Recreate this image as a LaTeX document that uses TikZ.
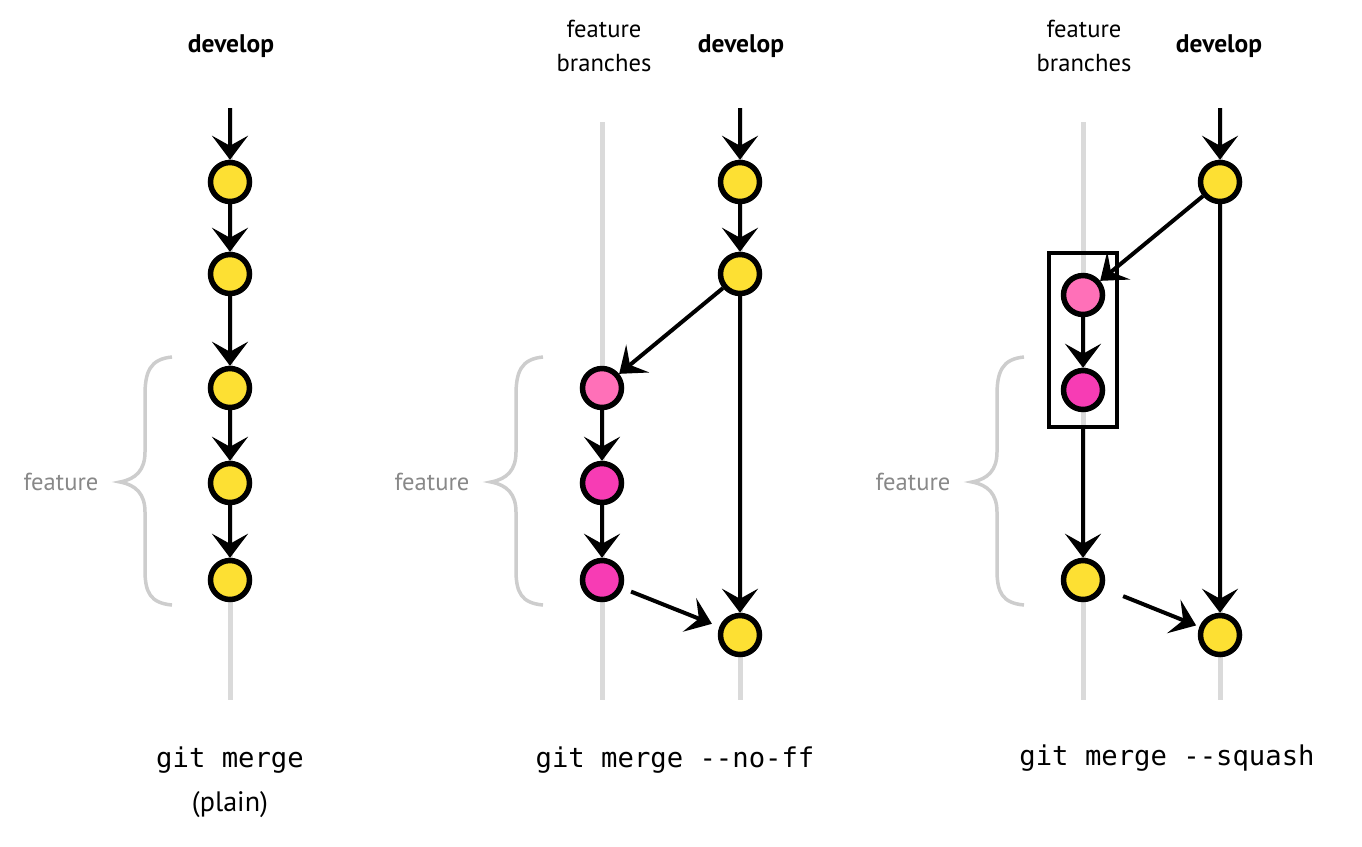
\documentclass[tikz,border=0pt]{standalone}
\usepackage{fontspec}
\setmainfont{PT Sans}
\newfontfamily\gitmono{DejaVu Sans Mono}
\usetikzlibrary{arrows.meta}
\definecolor{cyel}{RGB}{253,224,51}
\definecolor{cpinkA}{RGB}{255,112,184}
\definecolor{cpinkB}{RGB}{247,60,180}
\definecolor{lanegray}{RGB}{218,218,218}
\definecolor{bracegray}{RGB}{205,205,205}
\definecolor{txtgray}{RGB}{136,136,136}
\begin{document}
\begin{tikzpicture}[x=0.02cm,y=-0.02cm,
 commit/.style={circle,draw=black,line width=0.11cm,minimum size=0.78cm,inner sep=0pt},
 yc/.style={commit,fill=cyel},
 pa/.style={commit,fill=cpinkA},
 pb/.style={commit,fill=cpinkB},
 flow/.style={line width=0.08cm,-{Stealth[length=0.48cm,width=0.72cm,inset=0.2cm]}},
 lane/.style={draw=lanegray,line width=0.1cm},
 bracecurve/.style={draw=bracegray,line width=0.07cm},
 headlbl/.style={font=\fontsize{14.5}{15}\selectfont\bfseries},
 sublbl/.style={font=\fontsize{14}{19.3}\selectfont, align=center},
 plainlbl/.style={font=\fontsize{16}{19}\selectfont},
 featlbl/.style={font=\fontsize{14}{15}\selectfont, text=txtgray},
 cmd/.style={font=\gitmono\fontsize{15.5}{18}\selectfont},
 squashbox/.style={draw=black,line width=0.09cm,minimum width=1.36cm,minimum height=3.48cm,inner sep=0pt}
]
\useasboundingbox (0,0) rectangle (1362,846);

% lanes
\draw[lane] (230,108) -- (230,700);
\draw[lane] (602,122) -- (602,700);
\draw[lane] (740,108) -- (740,700);
\draw[lane] (1083,122) -- (1083,700);
\draw[lane] (1220,108) -- (1220,700);

% braces and labels
\foreach \sx/\nm in {0/fa,371/fb,852/fc}{
  \begin{scope}[shift={(\sx,0)}]
    \draw[bracecurve] (172,357) .. controls (150,359) and (145,372) .. (145,395) -- (145,452)
      .. controls (145,470) and (136,479) .. (120,482)
      .. controls (136,485) and (145,494) .. (145,512) -- (145,570)
      .. controls (145,592) and (150,603) .. (172,605);
    \node[featlbl] (\nm) at (61,482) {feature};
  \end{scope}
}

% headers
\node[headlbl] (h1) at (231,46) {develop};
\node[sublbl] (h2f) at (604,46) {feature\\branches};
\node[headlbl] (h2d) at (741,46) {develop};
\node[sublbl] (h3f) at (1084,46) {feature\\branches};
\node[headlbl] (h3d) at (1219,46) {develop};

% panel 1
\coordinate (t1) at (230,108);
\node[yc] (a1) at (230,182) {};
\node[yc] (a2) at (230,274) {};
\node[yc] (a3) at (230,388) {};
\node[yc] (a4) at (230,483) {};
\node[yc] (a5) at (230,580) {};
\draw[flow] (t1) -- (a1);
\draw[flow] (a1) -- (a2);
\draw[flow] (a2) -- (a3);
\draw[flow] (a3) -- (a4);
\draw[flow] (a4) -- (a5);

% panel 2
\coordinate (t2) at (740,108);
\node[yc] (b1) at (740,182) {};
\node[yc] (b2) at (740,274) {};
\node[pa] (p1) at (602,388) {};
\node[pb] (p2) at (602,483) {};
\node[pb] (p3) at (602,580) {};
\node[yc] (b3) at (740,635) {};
\draw[flow] (t2) -- (b1);
\draw[flow] (b1) -- (b2);
\draw[flow] (b2) -- (p1);
\draw[flow] (p1) -- (p2);
\draw[flow] (p2) -- (p3);
\draw[flow] (b2) -- (b3);
\draw[flow, shorten <=0.18cm, shorten >=0.16cm] (p3) -- (b3);

% panel 3
\coordinate (t3) at (1220,108);
\node[yc] (c1) at (1220,182) {};
\node[squashbox] (sq) at (1083,340) {};
\node[pa] (q1) at (1083,295) {};
\node[pb] (q2) at (1083,390) {};
\node[yc] (c2) at (1083,580) {};
\node[yc] (c3) at (1220,635) {};
\draw[flow] (t3) -- (c1);
\draw[flow] (c1) -- (q1);
\draw[flow] (q1) -- (q2);
\draw[flow] (sq.south) -- (c2);
\draw[flow] (c1) -- (c3);
\draw[flow, shorten <=0.42cm, shorten >=0.07cm] (c2) -- (c3);

% commands
\node[cmd] (m1) at (230,760) {git merge};
\node[plainlbl] (m1b) at (230,805) {(plain)};
\node[cmd] (m2) at (675,760) {git merge -{}-no-ff};
\node[cmd] (m3) at (1167,758) {git merge -{}-squash};
\end{tikzpicture}
\end{document}
